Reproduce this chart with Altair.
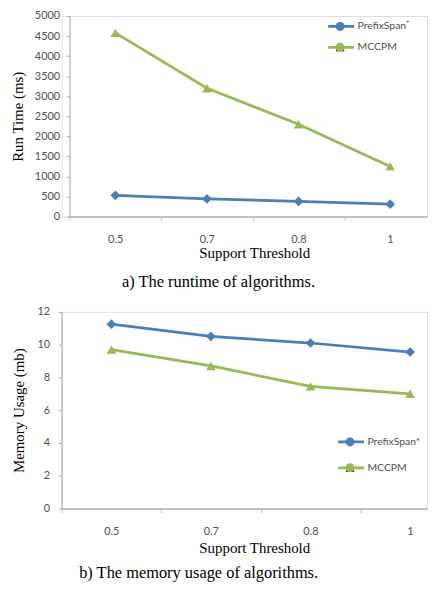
import altair as alt
import pandas as pd

# ---------------- data ----------------
thresholds = ["0.5", "0.7", "0.8", "1"]
runtime_names = ["PrefixSpan⁺", "MCCPM"]
runtime_prefixspan = [530, 440, 380, 310]
runtime_mccpm = [4580, 3200, 2300, 1250]
runtime_ticks = [0, 500, 1000, 1500, 2000, 2500, 3000, 3500, 4000, 4500, 5000]

memory_names = ["PrefixSpan*", "MCCPM"]
memory_prefixspan = [11.25, 10.5, 10.1, 9.55]
memory_mccpm = [9.7, 8.7, 7.45, 7.0]
memory_ticks = [0, 2, 4, 6, 8, 10, 12]

colors = ["#4A7EBB", "#98B954"]
marker_shapes = ["diamond", "triangle-up"]

TICK_FONT = "Lato"
SERIF = "Liberation Serif"
PLOT_W = 368


def make_df(names, a, b):
    rows = []
    for name, vals in zip(names, [a, b]):
        for i, v in enumerate(vals):
            rows.append({"idx": i, "value": v, "series": name})
    return pd.DataFrame(rows)


def panel(names, a, b, y_title, y_ticks, y_max, caption, height,
          x_domain, x_range, x_tick_vals, label_offset, y_offset,
          legend_x, legend_y, line_len, row_h, caption_dx, caption_offset,
          y_label_pad, y_title_pad, x_title_pad):
    df = make_df(names, a, b)
    base = alt.Chart(df)
    label_arr = "[" + ",".join("'%s'" % t for t in thresholds) + "]"
    x = alt.X(
        "idx:Q",
        scale=alt.Scale(domain=x_domain, range=x_range, nice=False, zero=False),
        axis=alt.Axis(
            values=x_tick_vals,
            labelExpr=label_arr + "[round(datum.value + 0.5)]",
            labelOffset=label_offset,
            labelFlush=False,
            labelOverlap=False,
            labelPadding=13,
            tickSize=4,
            grid=False,
            domainColor="#bfbfbf",
            domainWidth=2,
            tickColor="#bfbfbf",
            labelFont=TICK_FONT,
            labelFontSize=11,
            labelColor="#505050",
            titleFont=SERIF,
            titleFontSize=15,
            titleFontWeight="normal",
            titleColor="#000000",
            titlePadding=x_title_pad,
            titleX=194,
        ),
        title="Support Threshold",
    )
    y = alt.Y(
        "value:Q",
        scale=alt.Scale(domain=[0, y_max], nice=False),
        axis=alt.Axis(
            values=y_ticks,
            format="d",
            offset=y_offset,
            grid=False,
            tickSize=3,
            labelPadding=y_label_pad,
            domainColor="#a6a6a6",
            tickColor="#a6a6a6",
            labelFont=TICK_FONT,
            labelFontSize=11,
            labelColor="#505050",
            titleFont=SERIF,
            titleFontSize=15,
            titleFontWeight="normal",
            titleColor="#000000",
            titlePadding=y_title_pad,
        ),
        title=y_title,
    )
    line_leg = alt.Legend(
        orient="none", legendX=legend_x, legendY=legend_y, title=None,
        symbolType="stroke", symbolSize=line_len * line_len, symbolStrokeWidth=2.75,
        labelFont=TICK_FONT, labelFontSize=10.5, labelColor="#505050",
        labelOffset=2, clipHeight=row_h, rowPadding=0, padding=0,
    )
    legend_marker = 81
    mark_leg = alt.Legend(
        orient="none", legendX=legend_x + (line_len - 9) / 2.0, legendY=legend_y, title=None,
        symbolSize=legend_marker, symbolStrokeWidth=0,
        labelExpr="''", labelOffset=0, clipHeight=row_h, rowPadding=0, padding=0,
    )
    lines = base.mark_line(strokeWidth=2.75).encode(
        x=x, y=y,
        color=alt.Color("series:N", scale=alt.Scale(domain=names, range=colors), legend=line_leg),
    )
    pts = base.transform_calculate(marker="datum.series").mark_point(
        filled=True, size=95, opacity=1
    ).encode(
        x=x, y=y,
        color=alt.Color("marker:N", scale=alt.Scale(domain=names, range=colors), legend=mark_leg),
        shape=alt.Shape("marker:N", scale=alt.Scale(domain=names, range=marker_shapes), legend=mark_leg),
    )
    return alt.layer(lines, pts).resolve_scale(color="independent").properties(
        width=PLOT_W, height=height,
        title=alt.TitleParams(
            caption, orient="bottom", anchor="middle", frame="group",
            font=SERIF, fontSize=16.5, fontWeight="normal", color="#000000",
            dx=caption_dx, offset=caption_offset,
        ),
    )


top = panel(
    runtime_names, runtime_prefixspan, runtime_mccpm, "Run Time (ms)", runtime_ticks, 5000,
    "a) The runtime of algorithms.", 202,
    [-0.5, 3.4024], [8, PLOT_W], [-0.5, 0.5, 1.5, 2.5], 46, -8,
    267, 0, 26, 21, -26, 14, 7, 8.5, 1,
)
bottom = panel(
    memory_names, memory_prefixspan, memory_mccpm, "Memory Usage (mb)", memory_ticks, 12,
    "b) The memory usage of algorithms.", 198,
    [-0.5, 3.17], [0, PLOT_W], [-0.5, 0.5, 1.5, 2.5], 50, 0,
    277, 118, 26, 26, -46, 10, 9, 11, 4,
)

chart = alt.vconcat(top, bottom, spacing=14).resolve_scale(
    color="independent", shape="independent",
    x="independent", y="independent",
).properties(
    padding={"left": 2, "top": -1, "right": 0, "bottom": 0}
).configure_view(stroke=None).configure(background="white")

chart.save("out.html", embed_options={"renderer": "svg", "actions": False})
